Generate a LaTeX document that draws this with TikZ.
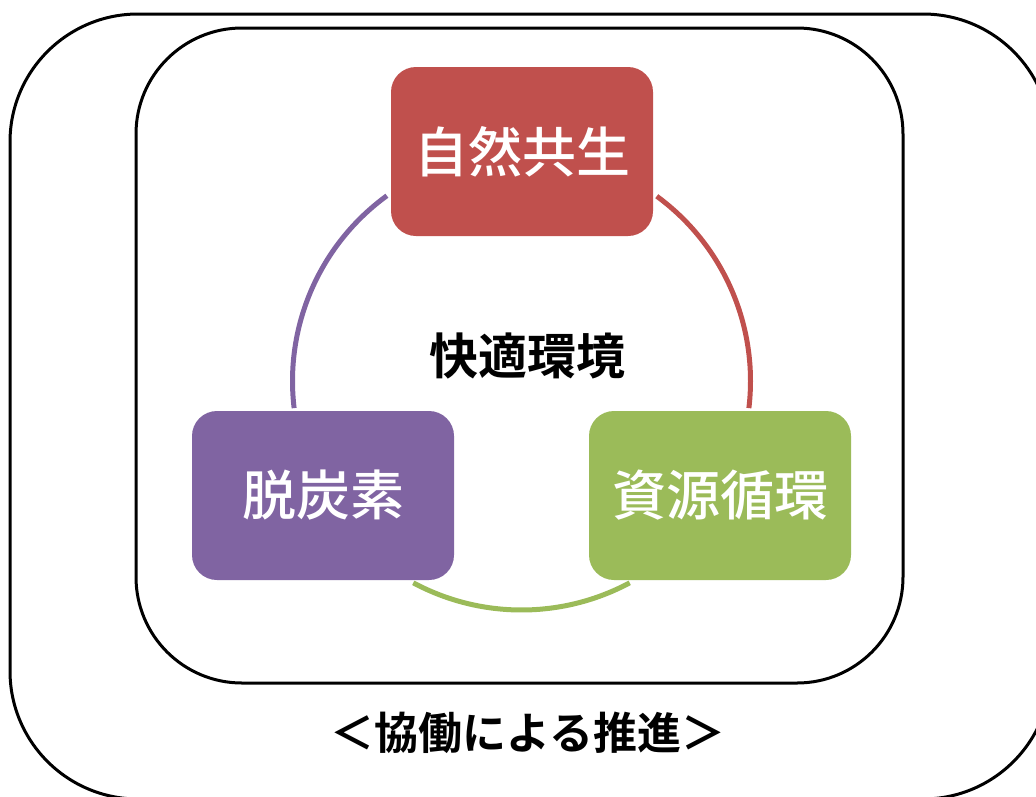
\documentclass[tikz,border=0pt]{standalone}
\usepackage{fontspec}
\newfontfamily\jp{Noto Sans CJK JP}[BoldFont={Noto Sans CJK JP Bold}]
\newfontfamily\jpm{Noto Sans CJK JP Medium}
\definecolor{cred}{HTML}{C0504D}
\definecolor{cpurple}{HTML}{8064A2}
\definecolor{cgreen}{HTML}{9BBB59}
\tikzset{
  frame/.style={draw=black, line width=3pt},
  boxnode/.style={rounded corners=25pt, minimum width=262pt, minimum height=169pt,
    inner sep=0pt, text=white, font=\jpm\fontsize{54}{60}\selectfont},
  ring/.style={line width=5pt},
}
\begin{document}
\begin{tikzpicture}[x=1pt,y=-1pt]
\useasboundingbox (0,0) rectangle (1036,796);
\clip (0,0) rectangle (1036,796);
% frames
\draw[frame, rounded corners=128pt] (10,14) rectangle (1051,799);
\draw[frame, rounded corners=106pt] (136,28) rectangle (903,683);
% ring centre
\coordinate (c) at (521.5,381);
\draw[ring, draw=cred] (c) ++(-53.8:229) arc[start angle=-53.8, end angle=6.8, radius=229];
\draw[ring, draw=cpurple] (c) ++(234:229) arc[start angle=234, end angle=173.2, radius=229];
\draw[ring, draw=cgreen] (c) ++(118.2:229) arc[start angle=118.2, end angle=61.8, radius=229];
% boxes
\node[boxnode, fill=cred] (shizen) at (522,151.5) {自然共生};
\node[boxnode, fill=cpurple] (datsu) at (323,495.5) {脱炭素};
\node[boxnode, fill=cgreen] (shigen) at (720,495.5) {資源循環};
% labels
\node[font=\jp\bfseries\fontsize{49}{56}\selectfont] (kaiteki) at (527.5,356) {快適環境};
\node[font=\jp\bfseries\fontsize{44}{50}\selectfont] (kyodo) at (528,733) {＜協働による推進＞};
\end{tikzpicture}
\end{document}
